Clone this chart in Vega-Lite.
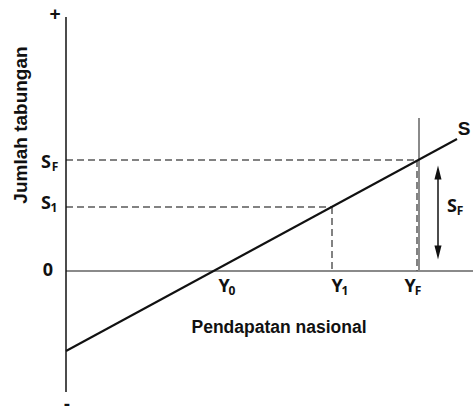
{
  "$schema": "https://vega.github.io/schema/vega-lite/v6.json",
  "width": 473,
  "height": 419,
  "padding": 0,
  "autosize": {"type": "none"},
  "background": "white",
  "config": {"view": {"stroke": null}},
  "datasets": {
    "axisLines": [
      {"name": "sumbu tabungan", "pendapatan": 0, "tabungan": -121, "pendapatan2": 0, "tabungan2": 254}
    ],
    "grayLines": [
      {"name": "sumbu pendapatan", "pendapatan": 0, "tabungan": 0, "pendapatan2": 407, "tabungan2": 0},
      {"name": "YF", "pendapatan": 353, "tabungan": 0, "pendapatan2": 353, "tabungan2": 153}
    ],
    "guides": [
      {"name": "SF h", "pendapatan": 0, "tabungan": 111, "pendapatan2": 352, "tabungan2": 111},
      {"name": "SF v", "pendapatan": 351, "tabungan": 111, "pendapatan2": 351, "tabungan2": 0},
      {"name": "S1 h", "pendapatan": 0, "tabungan": 64, "pendapatan2": 266, "tabungan2": 64},
      {"name": "S1 v", "pendapatan": 266, "tabungan": 64, "pendapatan2": 266, "tabungan2": 0}
    ],
    "saving": [
      {"pendapatan": 0, "tabungan": -80},
      {"pendapatan": 391, "tabungan": 132}
    ],
    "arrowShaft": [
      {"pendapatan": 372, "tabungan": 18, "pendapatan2": 372, "tabungan2": 99}
    ],
    "arrowUp": [{"pendapatan": 372, "tabungan": 98.5}],
    "arrowDown": [{"pendapatan": 372, "tabungan": 18.5}],
    "mainLabels": [
      {"text": "S", "pendapatan": -20, "tabungan": 108},
      {"text": "S", "pendapatan": -20, "tabungan": 67},
      {"text": "0", "pendapatan": -18, "tabungan": 0},
      {"text": "Y", "pendapatan": 158, "tabungan": -16},
      {"text": "Y", "pendapatan": 271, "tabungan": -16},
      {"text": "Y", "pendapatan": 344, "tabungan": -16},
      {"text": "S", "pendapatan": 386, "tabungan": 64}
    ],
    "subLabels": [
      {"text": "F", "pendapatan": -11, "tabungan": 104},
      {"text": "1", "pendapatan": -12, "tabungan": 63},
      {"text": "0", "pendapatan": 166, "tabungan": -20},
      {"text": "1", "pendapatan": 279, "tabungan": -20},
      {"text": "F", "pendapatan": 352, "tabungan": -20},
      {"text": "F", "pendapatan": 394, "tabungan": 60}
    ],
    "boldLabels": [
      {"text": "+", "pendapatan": -11, "tabungan": 257},
      {"text": "-", "pendapatan": 1, "tabungan": -133},
      {"text": "S", "pendapatan": 398, "tabungan": 142}
    ],
    "xTitle": [
      {"text": "Pendapatan nasional", "pendapatan": 213, "tabungan": -57}
    ],
    "yTitle": [
      {"text": "Jumlah tabungan", "pendapatan": -45, "tabungan": 146}
    ]
  },
  "encoding": {
    "x": {"field": "pendapatan", "type": "quantitative", "scale": {"domain": [-66, 407], "nice": false, "zero": false}, "axis": null},
    "y": {"field": "tabungan", "type": "quantitative", "scale": {"domain": [-148, 271], "nice": false, "zero": false}, "axis": null}
  },
  "layer": [
    {
      "data": {"name": "grayLines"},
      "mark": {"type": "rule", "color": "#8a8a8a", "strokeWidth": 2},
      "encoding": {"x2": {"field": "pendapatan2"}, "y2": {"field": "tabungan2"}}
    },
    {
      "data": {"name": "guides"},
      "mark": {"type": "rule", "color": "#5a5a5a", "strokeWidth": 1.5, "strokeDash": [7, 4]},
      "encoding": {"x2": {"field": "pendapatan2"}, "y2": {"field": "tabungan2"}}
    },
    {
      "data": {"name": "axisLines"},
      "mark": {"type": "rule", "color": "#111111", "strokeWidth": 1.5},
      "encoding": {"x2": {"field": "pendapatan2"}, "y2": {"field": "tabungan2"}}
    },
    {
      "data": {"name": "saving"},
      "mark": {"type": "line", "color": "#111111", "strokeWidth": 2}
    },
    {
      "data": {"name": "arrowShaft"},
      "mark": {"type": "rule", "color": "#111111", "strokeWidth": 1.5},
      "encoding": {"x2": {"field": "pendapatan2"}, "y2": {"field": "tabungan2"}}
    },
    {
      "data": {"name": "arrowUp"},
      "mark": {"type": "point", "shape": "M0,-1L0.5,1L-0.5,1Z", "size": 200, "filled": true, "color": "#111111", "opacity": 1}
    },
    {
      "data": {"name": "arrowDown"},
      "mark": {"type": "point", "shape": "M0,1L0.5,-1L-0.5,-1Z", "size": 200, "filled": true, "color": "#111111", "opacity": 1}
    },
    {
      "data": {"name": "mainLabels"},
      "mark": {"type": "text", "font": "Open Sans", "fontSize": 18, "fontWeight": "bold", "color": "#111111", "align": "center", "baseline": "middle"},
      "encoding": {"text": {"field": "text"}}
    },
    {
      "data": {"name": "subLabels"},
      "mark": {"type": "text", "font": "Open Sans", "fontSize": 12, "fontWeight": "bold", "color": "#111111", "align": "center", "baseline": "middle"},
      "encoding": {"text": {"field": "text"}}
    },
    {
      "data": {"name": "boldLabels"},
      "mark": {"type": "text", "font": "Liberation Sans", "fontSize": 19, "fontWeight": "bold", "color": "#111111", "align": "center", "baseline": "middle"},
      "encoding": {"text": {"field": "text"}}
    },
    {
      "data": {"name": "xTitle"},
      "mark": {"type": "text", "font": "Liberation Sans", "fontSize": 17.5, "fontWeight": "bold", "color": "#111111", "align": "center", "baseline": "middle"},
      "encoding": {"text": {"field": "text"}}
    },
    {
      "data": {"name": "yTitle"},
      "mark": {"type": "text", "font": "Liberation Sans", "fontSize": 19, "fontWeight": "bold", "color": "#111111", "align": "center", "baseline": "middle", "angle": 270},
      "encoding": {"text": {"field": "text"}}
    }
  ]
}
